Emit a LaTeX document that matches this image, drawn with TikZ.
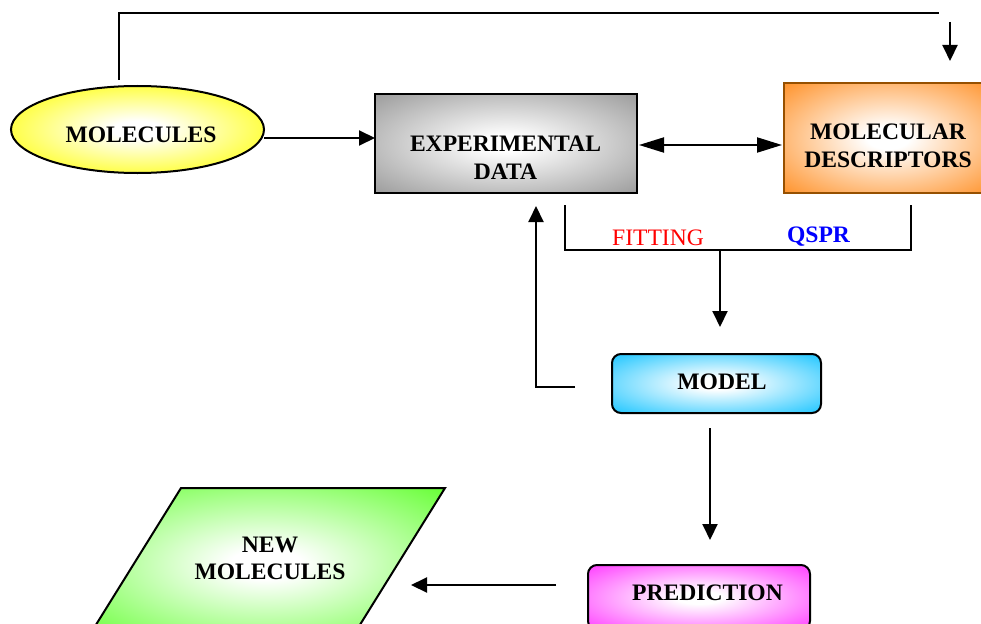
\documentclass[tikz,border=0pt]{standalone}
\usepackage{fontspec}
\setmainfont{Liberation Serif}
\usetikzlibrary{shapes.geometric,arrows.meta}
\definecolor{cyel}{RGB}{255,255,0}
\definecolor{cgray}{RGB}{135,135,135}
\definecolor{corange}{RGB}{255,145,40}
\definecolor{corangeb}{RGB}{150,80,0}
\definecolor{ccyan}{RGB}{40,200,255}
\definecolor{cmag}{RGB}{255,70,255}
\definecolor{cgreen}{RGB}{100,255,50}
\definecolor{cred}{RGB}{255,0,0}
\definecolor{cblue}{RGB}{0,0,255}
\pgfdeclareradialshading{shyel}{\pgfpoint{0bp}{0bp}}{color(0bp)=(white); color(5bp)=(white); color(33bp)=(cyel); color(50bp)=(cyel)}
\pgfdeclareradialshading{shgray}{\pgfpoint{0bp}{0bp}}{color(0bp)=(white); color(4bp)=(white); color(42bp)=(cgray); color(50bp)=(cgray)}
\pgfdeclareradialshading{shorange}{\pgfpoint{0bp}{0bp}}{color(0bp)=(white); color(5bp)=(white); color(36bp)=(corange); color(50bp)=(corange)}
\pgfdeclareradialshading{shcyan}{\pgfpoint{0bp}{0bp}}{color(0bp)=(white); color(5bp)=(white); color(34bp)=(ccyan); color(50bp)=(ccyan)}
\pgfdeclareradialshading{shmag}{\pgfpoint{0bp}{0bp}}{color(0bp)=(white); color(5bp)=(white); color(34bp)=(cmag); color(50bp)=(cmag)}
\pgfdeclareradialshading{shgreen}{\pgfpoint{0bp}{0bp}}{color(0bp)=(white); color(5bp)=(white); color(36bp)=(cgreen); color(50bp)=(cgreen)}
\tikzset{
  shapebox/.style={draw=black, line width=2pt, inner sep=0pt},
  lbl/.style={font=\fontsize{23.6}{27.5}\selectfont\bfseries, inner sep=0pt, align=center},
  plainlbl/.style={font=\fontsize{23.6}{27.5}\selectfont, inner sep=0pt},
  conn/.style={line width=2pt},
  arr/.style={line width=2pt, -{Triangle[length=16pt,width=15pt]}},
  darr/.style={line width=2pt, {Triangle[length=25pt,width=15pt]}-{Triangle[length=25pt,width=15pt]}}
}
\begin{document}
\begin{tikzpicture}[x=1pt,y=-1pt]
\useasboundingbox (0,0) rectangle (981,623);
\clip (0,0) rectangle (981,623);
% shapes
\node[shapebox, ellipse, minimum width=253pt, minimum height=87pt, shading=shyel] (mol) at (137.5,129.5) {};
\node[shapebox, rectangle, minimum width=262pt, minimum height=99pt, shading=shgray] (exp) at (506,143.5) {};
\node[shapebox, rectangle, draw=corangeb, minimum width=208pt, minimum height=110pt, shading=shorange] (desc) at (888,138) {};
\node[shapebox, rectangle, rounded corners=9pt, minimum width=209pt, minimum height=59pt, shading=shcyan] (model) at (716.5,383.5) {};
\node[shapebox, rectangle, rounded corners=9pt, minimum width=222pt, minimum height=65pt, shading=shmag] (pred) at (699,597.5) {};
\path[draw=black, line width=2pt, shading=shgreen] (181,488) -- (445,488) -- (350.5,640) -- (86.5,640) -- cycle;
\coordinate (newmol) at (270,558);
% labels
\node[lbl, anchor=base] (molT) at (141,142) {MOLECULES};
\node[lbl] (expT) at (505.5,157.5) {EXPERIMENTAL\\DATA};
\node[lbl] (descT) at (888,145.7) {MOLECULAR\\DESCRIPTORS};
\node[lbl, anchor=base] (modelT) at (722,389) {MODEL};
\node[lbl, anchor=base] (predT) at (707.5,600) {PREDICTION};
\node[lbl] (newT) at (270,558.2) {NEW\\MOLECULES};
\node[plainlbl, text=cred, anchor=base] (fitT) at (658,245) {FITTING};
\node[lbl, text=cblue, anchor=base] (qsprT) at (818.5,242) {QSPR};
% connector coordinates
\coordinate (t1) at (119,80);
\coordinate (t2) at (119,13);
\coordinate (t3) at (939,13);
\coordinate (d1) at (950,22);
\coordinate (d2) at (950,61);
\coordinate (m1) at (264,138);
\coordinate (m2) at (375,138);
\coordinate (e1) at (639,145);
\coordinate (e2) at (782,145);
\coordinate (b1) at (565,205);
\coordinate (b2) at (565,250);
\coordinate (b3) at (911,250);
\coordinate (b4) at (911,205);
\coordinate (bm) at (720,250);
\coordinate (bt) at (720,327);
\coordinate (f1) at (575,387);
\coordinate (f2) at (536,387);
\coordinate (f3) at (536,206);
\coordinate (p1) at (710,428);
\coordinate (p2) at (710,540);
\coordinate (n1) at (556,585);
\coordinate (n2) at (411,585);
% connectors
\draw[conn] (t1) -- (t2) -- (t3);
\draw[arr] (d1) -- (d2);
\draw[arr] (m1) -- (m2);
\draw[darr] (e1) -- (e2);
\draw[conn] (b1) -- (b2) -- (b3) -- (b4);
\draw[arr] (bm) -- (bt);
\draw[arr] (f1) -- (f2) -- (f3);
\draw[arr] (p1) -- (p2);
\draw[arr] (n1) -- (n2);
\end{tikzpicture}
\end{document}
